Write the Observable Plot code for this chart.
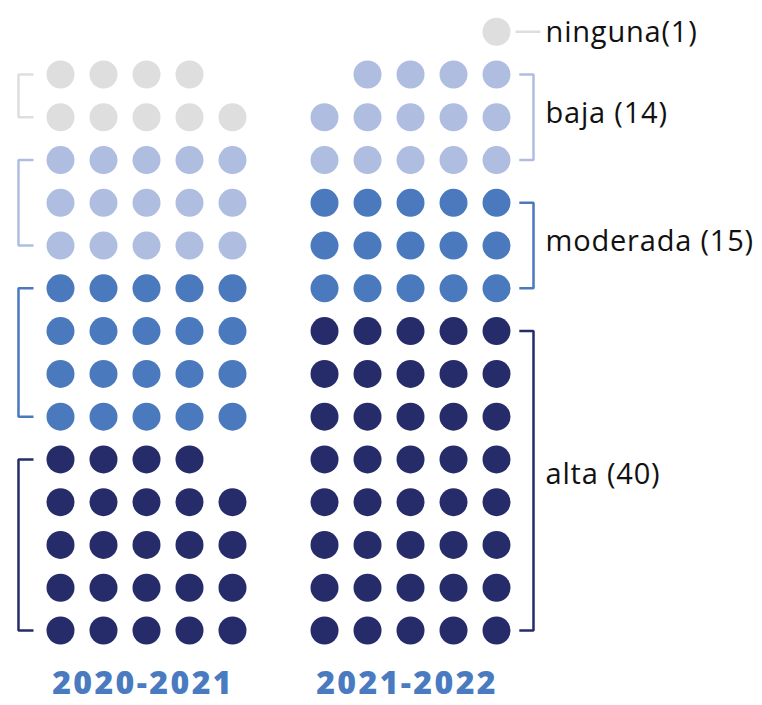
<!DOCTYPE html>
<html>
<head>
<meta charset="utf-8">
<script src="https://cdn.jsdelivr.net/npm/d3@7"></script>
<script src="https://cdn.jsdelivr.net/npm/@observablehq/plot@0.6"></script>
<style>
  html, body { margin: 0; padding: 0; background: #fff; }
</style>
</head>
<body>
<div id="chart"></div>
<script>
// ---- data ----
const periods = ["2020-2021", "2021-2022"];
const categories = ["alta", "moderada", "baja", "ninguna"];
const counts2020 = [24, 20, 15, 9];
const counts2021 = [40, 15, 14, 1];
const labels2021 = ["alta (40)", "moderada (15)", "baja (14)", "ninguna(1)"];
const colors = ["#262c6a", "#4a79be", "#aebde0", "#dedede"];

// ---- layout (grid units) ----
const perRow = 5;
const partialAlign = ["left", "right"];
const colOffset = [0, 6.14];
const allCounts = [counts2020, counts2021];

const dots = [];
const groups = [];
allCounts.forEach((counts, p) => {
  let row = 0;
  counts.forEach((n, c) => {
    const full = Math.floor(n / perRow);
    const rem = n % perRow;
    for (let i = 0; i < n; i++) {
      const r = row + Math.floor(i / perRow);
      let col = i % perRow;
      if (i >= full * perRow && partialAlign[p] === "right") col += perRow - rem;
      dots.push({period: periods[p], category: categories[c], x: col + colOffset[p], y: r});
    }
    const rows = Math.ceil(n / perRow);
    groups.push({p, c, bottom: row, top: row + rows - 1, n});
    row += rows;
  });
});

// brackets
const bracketPts = [];
const labelData = [];
const legendLine = [];
groups.forEach((g, i) => {
  const cat = categories[g.c];
  if (g.p === 0) {
    const vx = -0.977, tx = -0.628;
    [[tx, g.top], [vx, g.top], [vx, g.bottom], [tx, g.bottom]].forEach(([x, y]) =>
      bracketPts.push({id: i, category: cat, x, y}));
  } else {
    if (g.n > 1) {
      const vx = 11.0, tx = 10.67;
      [[tx, g.top], [vx, g.top], [vx, g.bottom], [tx, g.bottom]].forEach(([x, y]) =>
        bracketPts.push({id: i, category: cat, x, y}));
      labelData.push({text: labels2021[g.c], x: 11.28, y: (g.top + g.bottom) / 2 + (g.n > 20 ? 0.15 : 0.08)});
    } else {
      legendLine.push({category: cat, x1: 10.58, x2: 11.16, y: g.top});
      labelData.push({text: labels2021[g.c], x: 11.28, y: g.top - 0.02});
    }
  }
});

const yearLabels = periods.map((p, i) => ({text: p, x: colOffset[i] + 1.92, y: -1.25}));

const chart = Plot.plot({
  width: 762,
  height: 705,
  margin: 0,
  x: {domain: [0, 4], range: [60, 232], axis: null},
  y: {domain: [0, 13], range: [630, 74], axis: null},
  color: {domain: categories, range: colors},
  style: {fontFamily: "'Open Sans', sans-serif", background: "#fff"},
  marks: [
    Plot.line(bracketPts, {x: "x", y: "y", z: "id", stroke: "category", strokeWidth: 2.5, strokeLinejoin: "miter", strokeLinecap: "butt"}),
    Plot.link(legendLine, {x1: "x1", x2: "x2", y1: "y", y2: "y", stroke: "category", strokeWidth: 2.5}),
    Plot.dot(dots, {x: "x", y: "y", r: 14, fill: "category", stroke: null}),
    Plot.text(labelData, {x: "x", y: "y", text: "text", textAnchor: "start", fontSize: 29, fill: "#111"}),
    Plot.text(yearLabels, {x: "x", y: "y", text: "text", fontSize: 32, fontWeight: 800, fill: "#4a7bc1"})
  ]
});
const textGroups = chart.querySelectorAll('g[aria-label="text"]');
if (textGroups[0]) textGroups[0].style.letterSpacing = "0.8px";
if (textGroups[1]) textGroups[1].style.letterSpacing = "2.4px";
document.getElementById("chart").appendChild(chart);
</script>
</body>
</html>
